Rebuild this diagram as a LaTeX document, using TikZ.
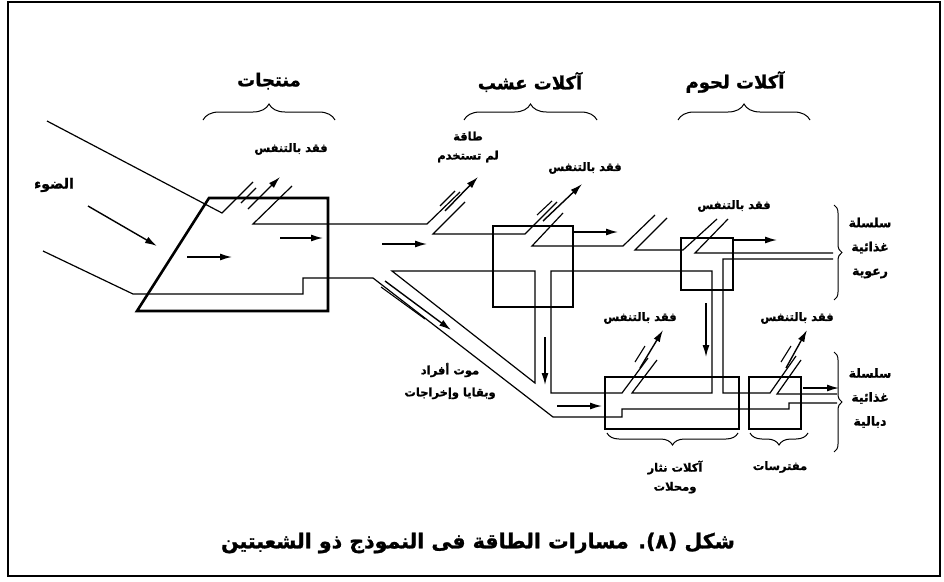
\documentclass[tikz,border=0pt]{standalone}
\usepackage{fontspec}
\newfontfamily\ar[Script=Arabic,BoldFeatures={FakeBold=1.2}]{DejaVu Sans}
\TeXXeTstate=1
\newcommand{\RL}[1]{\beginR #1\endR}
\usetikzlibrary{arrows.meta,decorations.pathreplacing}
\begin{document}
\begin{tikzpicture}[x=1pt,y=-1pt,
  box/.style={line width=2.6pt},
  flow/.style={line width=1.2pt},
  thin/.style={line width=1.1pt},
  arr/.style={line width=1.4pt,-{Latex[length=12pt,width=7pt]}},
  brc/.style={line width=1pt,decorate,decoration={brace,amplitude=#1}},
  big/.style={font=\ar\bfseries\fontsize{18}{20}\selectfont,inner sep=0pt},
  sm/.style={font=\ar\bfseries\fontsize{11.5}{14}\selectfont,inner sep=0pt,align=center},
  rt/.style={font=\ar\bfseries\fontsize{12.5}{15}\selectfont,inner sep=0pt,align=center},
  med/.style={font=\ar\bfseries\fontsize{14}{16}\selectfont,inner sep=0pt,align=center},
  captxt/.style={font=\ar\bfseries\fontsize{20.5}{22}\selectfont,inner sep=0pt}]
\path[use as bounding box] (0,0) rectangle (944,581);
\draw[line width=2pt] (8,2) rectangle (940,576);
% boxes
\draw[box] (137,311) -- (209,198) -- (328,198) -- (328,311) -- cycle;
\draw[box] (493,226) rectangle (573,307);
\draw[box] (681,238) rectangle (733,290);
\draw[box] (605,377) rectangle (739,429);
\draw[box] (749,377) rectangle (801,429);
% light and lower channel
\draw[flow] (47,121) -- (222,213) -- (253,182);
\draw[flow] (43,251) -- (133,294) -- (303,294) -- (303,278) -- (373,278) -- (553,417) -- (622,417) -- (622,409) -- (789,409) -- (789,403) -- (837,403);
% top channel
\draw[flow] (292,186) -- (253,224) -- (427,224) -- (460,192);
\draw[flow] (465,202) -- (433,234) -- (525,234) -- (557,202);
\draw[flow] (563,213) -- (532,246) -- (623,246) -- (655,215);
\draw[flow] (667,218) -- (635,250) -- (683,250) -- (717,219);
\draw[flow] (728,219) -- (695,253) -- (833,253);
% middle channel
\draw[flow] (535,383) -- (535,271) -- (392,271) -- cycle;
\draw[flow] (648,358) -- (622,393) -- (551,393) -- (551,271) -- (712,271) -- (712,393) -- (632,393) -- (657,360);
\draw[flow] (833,259) -- (723,259) -- (723,393) -- (770,393) -- (796,356);
\draw[flow] (801,360) -- (777,394) -- (837,394);
% arrows
\draw[arr] (88,206) -- (157,246);
\draw[arr] (187,257) -- (232,257);
\draw[arr] (280,238) -- (323,238);
\draw[arr] (248,209) -- (280,177);
\draw[arr] (382,244) -- (427,244);
\draw[arr] (445,211) -- (478,177);
\draw[arr] (543,221) -- (582,184);
\draw[arr] (573,232) -- (618,232);
\draw[arr] (733,240) -- (777,240);
\draw[arr] (385,281) -- (451,330);
\draw[arr] (545,337) -- (545,385);
\draw[arr] (706,303) -- (706,357);
\draw[arr] (557,406) -- (602,406);
\draw[arr] (640,368) -- (663,330);
\draw[arr] (786,368) -- (807,330);
\draw[arr] (803,388) -- (839,388);
% short strokes beside the loss arrows
\draw[thin] (241,203) -- (256,188);
\draw[thin] (440,206) -- (455,191);
\draw[thin] (537,215) -- (552,201);
\draw[thin] (635,362) -- (645,346);
\draw[thin] (781,362) -- (791,346);
\draw[thin] (381,287) -- (425,319);
% braces
\draw[brc=16pt] (203,120) -- (335,120);
\draw[brc=16pt] (464,120) -- (597,120);
\draw[brc=16pt] (678,120) -- (810,120);
\draw[brc=12pt] (738,433) -- (607,433);
\draw[brc=12pt] (808,433) -- (750,433);
\draw[brc=8pt] (834,205) -- (834,300);
\draw[brc=8pt] (834,352) -- (834,452);
% labels
\node[big] (lp) at (269,81) {\RL{منتجات}};
\node[big] (lh) at (530,82) {\RL{آكلات عشب}};
\node[big] (lc) at (735,82) {\RL{آكلات لحوم}};
\node[sm] (r1) at (291,149) {\RL{فقد بالتنفس}};
\node[sm] (u1) at (468,147) {\RL{طاقة}\\[5pt]\RL{لم تستخدم}};
\node[sm] (r2) at (585,168) {\RL{فقد بالتنفس}};
\node[sm] (r3) at (734,206) {\RL{فقد بالتنفس}};
\node[sm] (r4) at (640,318) {\RL{فقد بالتنفس}};
\node[sm] (r5) at (797,318) {\RL{فقد بالتنفس}};
\node[med] (light) at (54,185) {\RL{الضوء}};
\node[sm] (dead) at (450,381) {\RL{موت أفراد}\\[8pt]\RL{وبقايا وإخراجات}};
\node[sm] (dec) at (675,477) {\RL{آكلات نثار}\\[5pt]\RL{ومحلات}};
\node[sm] (pred) at (780,467) {\RL{مفترسات}};
\node[rt] (gz) at (870,248) {\RL{سلسلة}\\[9pt]\RL{غذائية}\\[9pt]\RL{رعوية}};
\node[rt] (dt) at (870,398) {\RL{سلسلة}\\[9pt]\RL{غذائية}\\[9pt]\RL{دبالية}};
\node[captxt] (caption) at (478,543) {\RL{شكل (٨). مسارات الطاقة فى النموذج ذو الشعبتين}};
\end{tikzpicture}
\end{document}
